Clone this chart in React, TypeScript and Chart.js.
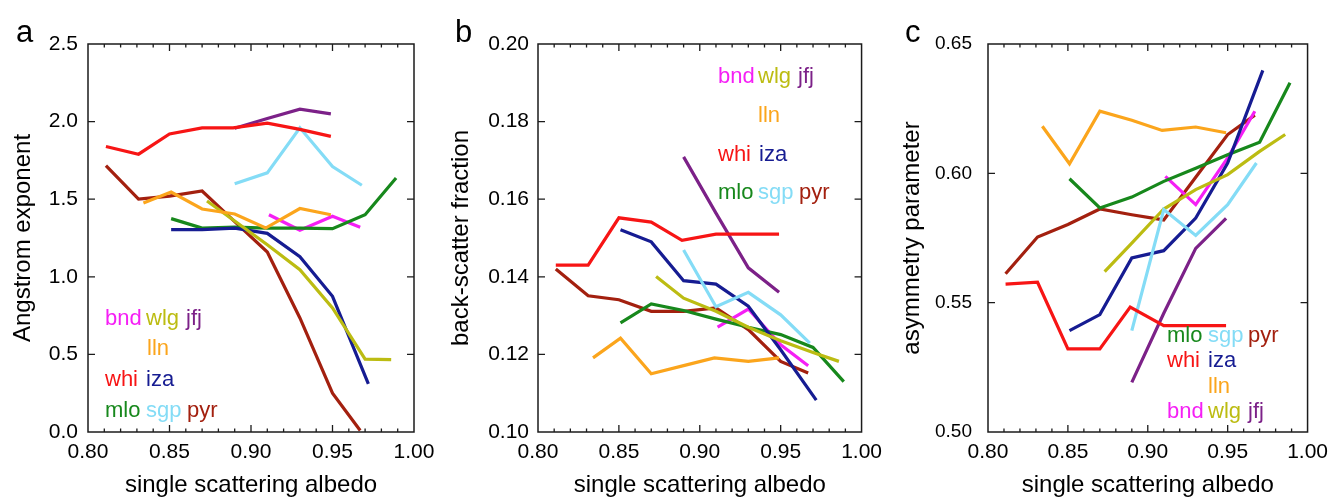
import React, { useEffect, useRef } from 'react';
import { Chart, registerables } from 'chart.js';

Chart.register(...registerables);

const FONT = '"Liberation Sans", Arial, Helvetica, sans-serif';

// ---- x values (single scattering albedo bins) per station ----
const whiX = [0.811, 0.831, 0.85, 0.87, 0.889, 0.91, 0.93, 0.949];
const jfjX = [0.89, 0.91, 0.93, 0.949];
const sgpX = [0.89, 0.91, 0.93, 0.95, 0.968];
const pyrX = [0.811, 0.831, 0.85, 0.87, 0.89, 0.91, 0.93, 0.95, 0.967];
const llnX = [0.834, 0.851, 0.87, 0.89, 0.909, 0.93, 0.949];
const wlgX = [0.873, 0.89, 0.91, 0.93, 0.95, 0.97, 0.986];
const izaX = [0.851, 0.87, 0.89, 0.91, 0.93, 0.95, 0.972];
const mloX = [0.851, 0.87, 0.89, 0.91, 0.93, 0.95, 0.97, 0.989];
const bndX = [0.911, 0.93, 0.95, 0.967];

// ---- panel a: Angstrom exponent ----
const angWhi = [1.84, 1.79, 1.92, 1.96, 1.96, 1.99, 1.95, 1.905];
const angJfj = [1.957, 2.02, 2.08, 2.05];
const angSgp = [1.6, 1.67, 1.96, 1.71, 1.59];
const angPyr = [1.716, 1.5, 1.52, 1.553, 1.356, 1.16, 0.735, 0.25, 0.01];
const angLln = [1.475, 1.546, 1.437, 1.405, 1.314, 1.44, 1.4];
const angWlg = [1.488, 1.36, 1.207, 1.046, 0.8, 0.47, 0.466];
const angIza = [1.304, 1.304, 1.314, 1.28, 1.13, 0.874, 0.31];
const angMlo = [1.375, 1.314, 1.32, 1.314, 1.314, 1.31, 1.4, 1.637];
const angBnd = [1.4, 1.3, 1.39, 1.32];

// ---- panel b: back-scatter fraction ----
const bsfWhi = [0.143, 0.143, 0.1552, 0.1541, 0.1494, 0.151, 0.151, 0.151];
const bsfJfj = [0.1709, 0.1564, 0.1423, 0.136];
const bsfSgp = [0.1469, 0.1323, 0.136, 0.1302, 0.1229];
const bsfPyr = [0.142, 0.1351, 0.1341, 0.1311, 0.1311, 0.132, 0.1264, 0.1182, 0.1152];
const bsfLln = [0.1191, 0.1242, 0.115, 0.1171, 0.1191, 0.1182, 0.1191];
const bsfWlg = [0.1401, 0.1345, 0.1311, 0.127, 0.1235, 0.1205, 0.1182];
const bsfIza = [0.1521, 0.149, 0.139, 0.1381, 0.1324, 0.1212, 0.1082];
const bsfMlo = [0.1281, 0.133, 0.1313, 0.1291, 0.127, 0.1251, 0.1218, 0.113];
const bsfBnd = [0.127, 0.1317, 0.1225, 0.1171];

// ---- panel c: asymmetry parameter ----
const asyWhi = [0.5572, 0.5579, 0.5321, 0.5321, 0.5483, 0.5411, 0.5411, 0.5411];
const asyJfj = [0.5192, 0.5459, 0.571, 0.5826];
const asySgp = [0.5392, 0.586, 0.576, 0.5879, 0.604];
const asyPyr = [0.5612, 0.5754, 0.5802, 0.5862, 0.584, 0.582, 0.5985, 0.615, 0.6225];
const asyLln = [0.6182, 0.6037, 0.624, 0.6205, 0.6166, 0.6179, 0.6157];
const asyWlg = [0.562, 0.573, 0.5862, 0.5937, 0.5995, 0.6085, 0.615];
const asyIza = [0.5392, 0.5454, 0.5673, 0.5701, 0.5827, 0.604, 0.6398];
const asyMlo = [0.5979, 0.5866, 0.5908, 0.5969, 0.602, 0.6072, 0.612, 0.635];
const asyBnd = [0.5988, 0.5879, 0.606, 0.624];

// ---- axis ticks ----
const xTickStep = 0.05;
const angTickStep = 0.5;
const bsfTickStep = 0.02;
const asyTickStep = 0.05;

const stationColors: Record<string, string> = {
  bnd: '#f51ff5',
  wlg: '#bcbc12',
  jfj: '#7c2188',
  lln: '#fba51c',
  whi: '#f71515',
  iza: '#161c92',
  mlo: '#17881c',
  sgp: '#84dcf6',
  pyr: '#a3200f',
};

const stationX: Record<string, number[]> = {
  whi: whiX, jfj: jfjX, sgp: sgpX, pyr: pyrX, lln: llnX,
  wlg: wlgX, iza: izaX, mlo: mloX, bnd: bndX,
};

const drawOrder = ['whi', 'jfj', 'sgp', 'lln', 'wlg', 'iza', 'mlo', 'bnd', 'pyr'];

function buildDatasets(values: Record<string, number[]>) {
  return drawOrder.map((st) => ({
    label: st,
    data: stationX[st].map((x, i) => ({ x, y: values[st][i] })),
    borderColor: stationColors[st],
    backgroundColor: stationColors[st],
    borderWidth: 3.2,
    pointRadius: 0,
    tension: 0,
    fill: false,
    borderJoinStyle: 'miter' as const,
  }));
}

type LabelRow = { dy: number; items: { text: string; dx: number }[] };

const frameLabelsPlugin = {
  id: 'frameLabels',
  afterDatasetsDraw(chart: any, _args: any, opts: any) {
    const { ctx, chartArea } = chart;
    const { left, right, top, bottom } = chartArea;
    const xs = chart.scales.x;
    const ys = chart.scales.y;
    ctx.save();
    ctx.strokeStyle = '#1b1b1b';
    ctx.lineWidth = 1.5;
    ctx.strokeRect(left, top, right - left, bottom - top);
    ctx.lineWidth = 1.3;
    ctx.beginPath();
    for (let i = 1; i < 20; i++) {
      const px = xs.getPixelForValue(0.8 + i * 0.01);
      const len = i % 5 === 0 ? 7 : 3.5;
      ctx.moveTo(px, bottom);
      ctx.lineTo(px, bottom - len);
      ctx.moveTo(px, top);
      ctx.lineTo(px, top + len);
    }
    ys.ticks.forEach((t: any) => {
      const py = ys.getPixelForValue(t.value);
      if (Math.abs(py - top) < 1 || Math.abs(py - bottom) < 1) return;
      ctx.moveTo(left, py);
      ctx.lineTo(left + 7, py);
      ctx.moveTo(right, py);
      ctx.lineTo(right - 7, py);
    });
    ctx.stroke();

    ctx.font = `22px ${FONT}`;
    ctx.textAlign = 'left';
    ctx.textBaseline = 'alphabetic';
    (opts.rows as LabelRow[]).forEach((row) => {
      row.items.forEach((it) => {
        ctx.fillStyle = stationColors[it.text];
        ctx.fillText(it.text, left + it.dx, top + row.dy);
      });
    });
    ctx.fillStyle = '#000';
    ctx.font = `31px ${FONT}`;
    ctx.fillText(opts.letter, opts.letterX, 42);
    ctx.restore();
  },
};

type PanelSpec = {
  canvasLeft: number;
  canvasWidth: number;
  plotLeft: number;
  plotRight: number;
  yMin: number;
  yMax: number;
  yStep: number;
  yDigits: number;
  yTickSize: number;
  yTickPad: number;
  yTitle: string;
  yTitlePad: number;
  values: Record<string, number[]>;
  letter: string;
  letterX: number;
  rows: LabelRow[];
};

const panels: PanelSpec[] = [
  {
    canvasLeft: 0, canvasWidth: 445, plotLeft: 88, plotRight: 414,
    yMin: 0, yMax: 2.5, yStep: angTickStep, yDigits: 1, yTickSize: 21, yTickPad: 10,
    yTitle: 'Angstrom exponent', yTitlePad: 8.5,
    values: { whi: angWhi, jfj: angJfj, sgp: angSgp, pyr: angPyr, lln: angLln, wlg: angWlg, iza: angIza, mlo: angMlo, bnd: angBnd },
    letter: 'a', letterX: 16,
    rows: [
      { dy: 281, items: [{ text: 'bnd', dx: 17 }, { text: 'wlg', dx: 58 }, { text: 'jfj', dx: 98 }] },
      { dy: 311, items: [{ text: 'lln', dx: 59 }] },
      { dy: 342, items: [{ text: 'whi', dx: 17 }, { text: 'iza', dx: 58 }] },
      { dy: 373, items: [{ text: 'mlo', dx: 17 }, { text: 'sgp', dx: 58 }, { text: 'pyr', dx: 99 }] },
    ],
  },
  {
    canvasLeft: 445, canvasWidth: 445, plotLeft: 93, plotRight: 419,
    yMin: 0.1, yMax: 0.2, yStep: bsfTickStep, yDigits: 2, yTickSize: 21, yTickPad: 9,
    yTitle: 'back-scatter fraction', yTitlePad: 2.3,
    values: { whi: bsfWhi, jfj: bsfJfj, sgp: bsfSgp, pyr: bsfPyr, lln: bsfLln, wlg: bsfWlg, iza: bsfIza, mlo: bsfMlo, bnd: bsfBnd },
    letter: 'b', letterX: 10,
    rows: [
      { dy: 38.5, items: [{ text: 'bnd', dx: 180 }, { text: 'wlg', dx: 220 }, { text: 'jfj', dx: 260 }] },
      { dy: 77.5, items: [{ text: 'lln', dx: 220 }] },
      { dy: 116.5, items: [{ text: 'whi', dx: 180 }, { text: 'iza', dx: 221 }] },
      { dy: 155, items: [{ text: 'mlo', dx: 180 }, { text: 'sgp', dx: 220 }, { text: 'pyr', dx: 261 }] },
    ],
  },
  {
    canvasLeft: 890, canvasWidth: 446, plotLeft: 98, plotRight: 423,
    yMin: 0.5, yMax: 0.65, yStep: asyTickStep, yDigits: 2, yTickSize: 19, yTickPad: 16,
    yTitle: 'asymmetry parameter', yTitlePad: 7.5,
    values: { whi: asyWhi, jfj: asyJfj, sgp: asySgp, pyr: asyPyr, lln: asyLln, wlg: asyWlg, iza: asyIza, mlo: asyMlo, bnd: asyBnd },
    letter: 'c', letterX: 15,
    rows: [
      { dy: 298, items: [{ text: 'mlo', dx: 179 }, { text: 'sgp', dx: 220 }, { text: 'pyr', dx: 260 }] },
      { dy: 323, items: [{ text: 'whi', dx: 179 }, { text: 'iza', dx: 220 }] },
      { dy: 349, items: [{ text: 'lln', dx: 220 }] },
      { dy: 374, items: [{ text: 'bnd', dx: 179 }, { text: 'wlg', dx: 220 }, { text: 'jfj', dx: 260 }] },
    ],
  },
];

function Panel({ spec }: { spec: PanelSpec }) {
  const ref = useRef<HTMLCanvasElement | null>(null);
  useEffect(() => {
    if (!ref.current) return;
    const chart = new Chart(ref.current, {
      type: 'line',
      data: { datasets: buildDatasets(spec.values) as any },
      plugins: [frameLabelsPlugin],
      options: {
        animation: false,
        responsive: false,
        devicePixelRatio: 1,
        layout: { padding: { left: 0, right: spec.canvasWidth - spec.plotRight, top: 44, bottom: 0 } },
        plugins: {
          legend: { display: false },
          tooltip: { enabled: false },
          frameLabels: { rows: spec.rows, letter: spec.letter, letterX: spec.letterX },
        } as any,
        scales: {
          x: {
            type: 'linear',
            min: 0.8,
            max: 1.0,
            afterFit: (s: any) => { s.height = 66; },
            grid: { display: false, drawTicks: false },
            border: { display: false },
            ticks: {
              stepSize: xTickStep,
              padding: 8,
              color: '#000',
              font: { family: FONT, size: 21 },
              maxRotation: 0,
              callback: (v: any) => Number(v).toFixed(2),
            },
            title: {
              display: true,
              text: 'single scattering albedo',
              color: '#000',
              font: { family: FONT, size: 24 },
              padding: { top: 0, bottom: -1.5 },
            },
          },
          y: {
            type: 'linear',
            min: spec.yMin,
            max: spec.yMax,
            afterFit: (s: any) => { s.width = spec.plotLeft; },
            grid: { display: false, drawTicks: false },
            border: { display: false },
            ticks: {
              stepSize: spec.yStep,
              padding: spec.yTickPad,
              color: '#000',
              font: { family: FONT, size: spec.yTickSize },
              callback: (v: any) => Number(v).toFixed(spec.yDigits),
            },
            title: {
              display: true,
              text: spec.yTitle,
              color: '#000',
              font: { family: FONT, size: 24 },
              padding: { top: spec.yTitlePad, bottom: 0 },
            },
          },
        },
      },
    });
    return () => chart.destroy();
  }, [spec]);
  return (
    <div style={{ position: 'absolute', left: spec.canvasLeft, top: 0, width: spec.canvasWidth, height: 498 }}>
      <canvas ref={ref} width={spec.canvasWidth} height={498} style={{ display: 'block' }} />
    </div>
  );
}

export default function App() {
  return (
    <div style={{ position: 'fixed', left: 0, top: 0, width: 1336, height: 498, background: '#fff', overflow: 'hidden' }}>
      {panels.map((p) => (
        <Panel key={p.letter} spec={p} />
      ))}
    </div>
  );
}
